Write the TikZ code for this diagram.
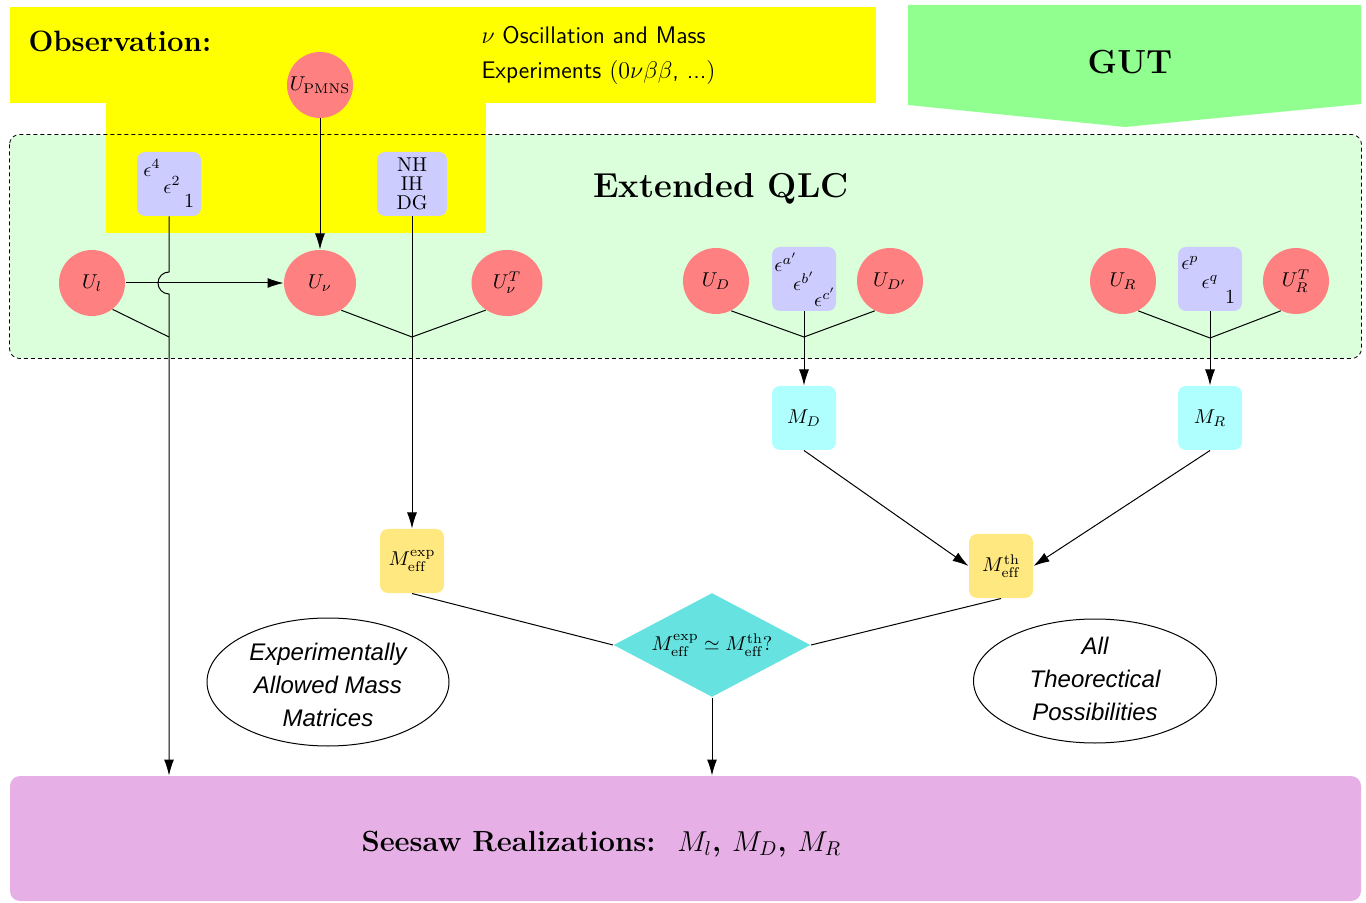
\documentclass[tikz,border=0pt]{standalone}
\usepackage{fontspec}
\newfontfamily\helvfont{Liberation Sans}
\usetikzlibrary{shapes.geometric,arrows.meta}
\definecolor{ured}{HTML}{FF8080}
\definecolor{epsblue}{HTML}{CCCCFF}
\definecolor{mcyan}{HTML}{AFFFFF}
\definecolor{myellow}{HTML}{FFE880}
\definecolor{dcyan}{HTML}{66E3E0}
\definecolor{qlcgreen}{HTML}{DAFFDA}
\definecolor{gutgreen}{HTML}{90FF90}
\definecolor{seesawc}{HTML}{E6AFE6}
\definecolor{obsyellow}{HTML}{FFFF00}
\begin{document}
\begin{tikzpicture}[x=0.5pt,y=-0.5pt,line width=0.5pt,
  >={Latex[length=8pt,width=5pt]},
  ucirc/.style={ellipse,fill=ured,inner sep=0pt,minimum width=33pt,minimum height=33pt},
  epsbox/.style={rectangle,rounded corners=4pt,fill=epsblue,inner sep=0pt,minimum width=32pt,minimum height=32pt},
  cbox/.style={rectangle,rounded corners=4pt,fill=mcyan,inner sep=0pt,minimum width=32pt,minimum height=32pt},
  ybox/.style={rectangle,rounded corners=4pt,fill=myellow,inner sep=0pt,minimum width=32pt,minimum height=32pt},
  txt/.style={inner sep=0pt},
  ell/.style={draw,ellipse,inner sep=0pt},
  elltxt/.style={align=center,inner sep=0pt,font=\helvfont\itshape\fontsize{12}{16.5}\selectfont},
]
\useasboundingbox (0,0) rectangle (1366,903);
% backgrounds
\node[fill=qlcgreen,rectangle,rounded corners=5pt,inner sep=0pt,minimum width=675.5pt,minimum height=111.5pt] (qlc) at (685.5,246.5) {};
\node[fill=obsyellow,rectangle,inner sep=0pt,minimum width=433pt,minimum height=48pt] (obs) at (443,55) {};
\node[fill=obsyellow,rectangle,inner sep=0pt,minimum width=190pt,minimum height=65.5pt] (obs2) at (296,167.5) {};
\draw[dash pattern=on 2pt off 1.5pt,line width=0.4pt,rounded corners=5pt] (qlc.north west) rectangle (qlc.south east);
\fill[gutgreen] (908,5) -- (1361,5) -- (1361,104) -- (1125,127) -- (908,105) -- cycle;
\node[fill=seesawc,rectangle,rounded corners=5pt,inner sep=0pt,minimum width=675.5pt,minimum height=62.5pt] (seesaw) at (685.5,838.5) {};
% texts
\node[txt,anchor=base west,font=\fontsize{14.7}{17}\selectfont\bfseries] (obstxt) at (28,52) {Observation:};
\node[txt,anchor=base west,font=\sffamily\fontsize{12}{14}\selectfont] (exp1) at (481,44) {$\nu$ Oscillation and Mass};
\node[txt,anchor=base west,font=\sffamily\fontsize{12}{14}\selectfont] (exp2) at (481,79) {Experiments $(0\nu\beta\beta$, ...$)$};
\node[txt,font=\fontsize{16.7}{20}\selectfont\bfseries] (gut) at (1130,62) {GUT};
\node[txt,anchor=base,font=\fontsize{17.3}{20}\selectfont\bfseries] (qlctxt) at (721,198) {Extended QLC};
\node[txt,anchor=base west,font=\fontsize{14.6}{17}\selectfont\bfseries] (seesawtxt) at (361,851) {Seesaw Realizations:\hspace{11pt}$M_l$, $M_D$, $M_R$};
% circles
\node[ucirc] (upmns) at (320,85) {\makebox[0pt]{$U_{\mathrm{PMNS}}$}};
\node[ucirc] (ul) at (92,283) {$U_l$};
\node[ucirc,minimum width=36pt] (unu) at (320,283) {$U_\nu$};
\node[ucirc,minimum width=35.5pt] (unuT) at (507,283) {$U_\nu^T$};
\node[ucirc] (ud) at (716,281) {$U_D$};
\node[ucirc] (udp) at (890,281) {$U_{D'}$};
\node[ucirc] (ur) at (1123,281) {$U_R$};
\node[ucirc] (urT) at (1296,281) {$U_R^T$};
% epsilon boxes
\node[epsbox] (epsl) at (169,184) {};
\node[txt] (epsl1) at (152,168) {$\epsilon^4$};
\node[txt] (epsl2) at (172,185) {$\epsilon^2$};
\node[txt] (epsl3) at (189,201) {$1$};
\node[epsbox,minimum width=35pt] (nh) at (412,184) {};
\node[txt,align=center,font=\fontsize{10}{9.5}\selectfont] (nhtxt) at (412,184) {NH\\IH\\DG};
\node[epsbox] (epsd) at (804,279) {};
\node[txt] (epsd1) at (786,262) {$\epsilon^{a'}$};
\node[txt] (epsd2) at (804,281) {$\epsilon^{b'}$};
\node[txt] (epsd3) at (825,297) {$\epsilon^{c'}$};
\node[epsbox] (epsr) at (1210,279) {};
\node[txt] (epsr1) at (1190,263) {$\epsilon^p$};
\node[txt] (epsr2) at (1210,282) {$\epsilon^q$};
\node[txt] (epsr3) at (1230,297) {$1$};
% mass boxes
\node[cbox] (md) at (804,418) {$M_D$};
\node[cbox] (mr) at (1210,418) {$M_R$};
\node[ybox] (mexp) at (412,561) {$M_{\mathrm{eff}}^{\mathrm{exp}}$};
\node[ybox] (mth) at (1001,566) {$M_{\mathrm{eff}}^{\mathrm{th}}$};
\node[diamond,fill=dcyan,inner sep=0pt,shape aspect=1.9,minimum width=98.5pt,minimum height=52pt,font=\fontsize{10}{12}\selectfont] (dia) at (712,645) {$M_{\mathrm{eff}}^{\mathrm{exp}}\simeq M_{\mathrm{eff}}^{\mathrm{th}}?$};
% ellipses
\node[ell,minimum width=121pt,minimum height=64pt] (ellL) at (328,682) {};
\node[elltxt] (ellLt) at (328,685) {Experimentally\\Allowed Mass\\Matrices};
\node[ell,minimum width=121.5pt,minimum height=62pt] (ellR) at (1095,681) {};
\node[elltxt] (ellRt) at (1095,679) {All\\Theorectical\\Possibilities};
% connectors
\coordinate (hoptop) at (169,272);
\coordinate (jl) at (169,337);
\coordinate (jnu) at (412,337);
\coordinate (jd) at (804,337);
\coordinate (jr) at (1210,338);
\draw[->] (epsl.south) -- (hoptop) arc[start angle=90,end angle=270,radius=5.5pt] -- (jl) -- (epsl.south |- seesaw.north);
\draw (ul.-52) -- (jl);
\draw[->] (ul) -- (unu);
\draw[->] (upmns) -- (unu);
\draw (unu.-52) -- (jnu) -- (unuT.-128);
\draw[->] (nh.south) -- (mexp.north);
\draw (ud.-63) -- (jd) -- (udp.-117);
\draw[->] (epsd.south) -- (md.north);
\draw (ur.-63) -- (jr) -- (urT.-117);
\draw[->] (epsr.south) -- (mr.north);
\draw[->] (md.south) -- (mth.west);
\draw[->] (mr.south) -- (mth.east);
\draw (mexp.south) -- (dia.west);
\draw (mth.south) -- (dia.east);
\draw[->] (dia.south) -- (dia.south |- seesaw.north);
\end{tikzpicture}
\end{document}
